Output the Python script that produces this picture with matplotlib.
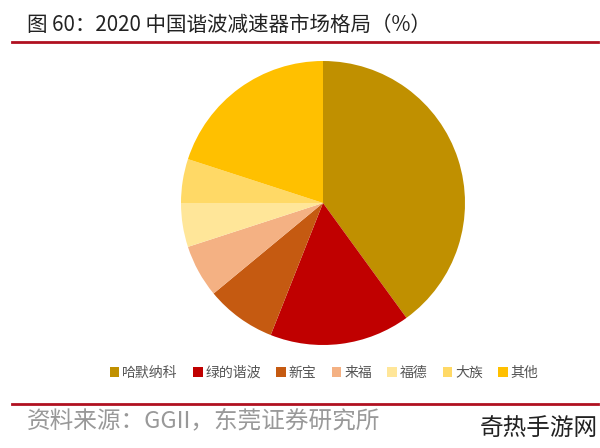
import matplotlib
matplotlib.use('Agg')
import matplotlib.pyplot as plt
from matplotlib.lines import Line2D
from matplotlib.patches import Patch

plt.rcParams['font.family'] = ['Noto Sans CJK SC', 'DejaVu Sans']

# 2020 China harmonic reducer market share (%)
companies = ['哈默纳科', '绿的谐波', '新宝', '来福', '福德', '大族', '其他']
shares = [40, 16, 8, 6, 5, 5, 20]
colors = ['#C09000', '#C00000', '#C55A11', '#F4B183', '#FFE699', '#FFD966', '#FFC000']

fig = plt.figure(figsize=(6, 4.48), dpi=100, facecolor='white')

# title and rules
fig.text(27 / 600, 1 - 25 / 448, '图 60：2020 中国谐波减速器市场格局（%）',
         fontsize=14.8, color='#222222', va='center', ha='left')
fig.add_artist(Line2D([12 / 600, 598 / 600], [1 - 42 / 448] * 2, color='#B01020', lw=2))
fig.add_artist(Line2D([12 / 600, 598 / 600], [1 - 404 / 448] * 2, color='#B01020', lw=2))

# pie
cx, cy, r = 323, 203, 142
ax = fig.add_axes([(cx - r) / 600, (448 - cy - r) / 448, 2 * r / 600, 2 * r / 448])
ax.pie(shares, colors=colors, startangle=90, counterclock=False,
       wedgeprops=dict(linewidth=0))
ax.set_xlim(-1, 1)
ax.set_ylim(-1, 1)
ax.set_aspect('auto')
ax.axis('off')

handles = [Patch(facecolor=c, edgecolor='none') for c in colors]
fig.legend(handles, companies, loc='center', bbox_to_anchor=(324 / 600, 1 - 373 / 448),
           ncol=7, frameon=False, fontsize=10, handlelength=0.7, handleheight=0.7,
           handletextpad=0.2, columnspacing=1.1, labelcolor='#555555')

fig.text(27 / 600, 1 - 421 / 448, '资料来源：GGII，东莞证券研究所',
         fontsize=17, color='#999999', va='center', ha='left')
fig.text(598 / 600, 1 - 428 / 448, '奇热手游网',
         fontsize=17, color='#222222', va='center', ha='right')

fig.savefig('out.png', dpi=100, facecolor='white')
